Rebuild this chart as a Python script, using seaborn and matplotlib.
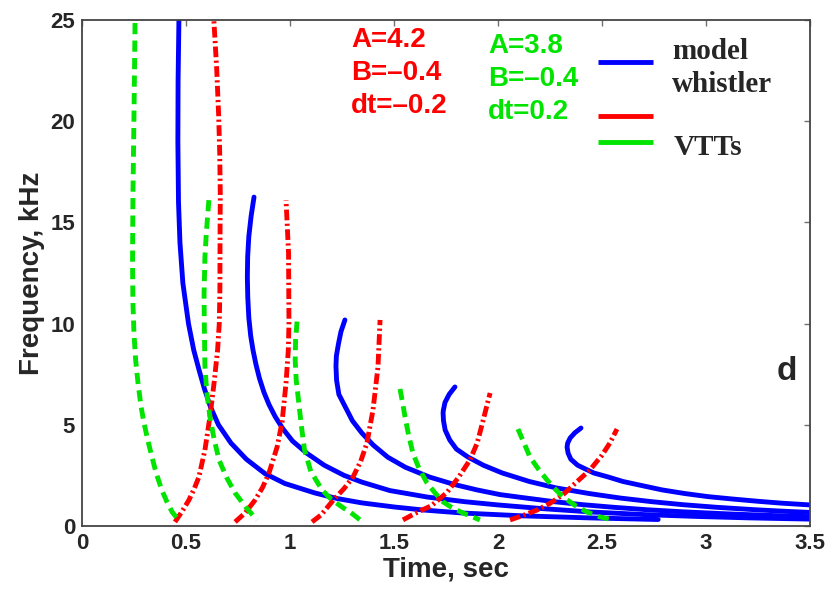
import matplotlib
matplotlib.use("Agg")
import matplotlib.pyplot as plt
from matplotlib.lines import Line2D
import pandas as pd
import seaborn as sns

# ---- model whistler traces: time (s) vs frequency (kHz) ----
w1_time = [0.466, 0.462, 0.461, 0.464, 0.471, 0.485, 0.512, 0.537, 0.563, 0.588, 0.617, 0.656,
           0.716, 0.79, 0.878, 0.975, 1.12, 1.225, 1.346, 1.50, 1.64, 1.83, 2.12, 2.44, 2.77]
w1_freq = [25.0, 22.0, 19.0, 16.0, 14.0, 12.0, 10.0, 8.7, 7.7, 6.8, 5.9, 5.0,
           4.1, 3.3, 2.6, 2.1, 1.63, 1.36, 1.14, 0.94, 0.79, 0.64, 0.50, 0.40, 0.32]

w2_time = [0.827, 0.813, 0.802, 0.7965, 0.795, 0.797, 0.802, 0.811, 0.822, 0.836, 0.853, 0.875,
           0.899, 0.929, 0.966, 1.012, 1.08, 1.165, 1.26, 1.345, 1.48, 1.66, 1.84, 2.0, 2.21,
           2.45, 2.71, 2.96, 3.21, 3.5]
w2_freq = [16.25, 15.3, 14.3, 13.3, 12.3, 11.3, 10.3, 9.4, 8.7, 8.0, 7.3, 6.6,
           6.0, 5.4, 4.8, 4.2, 3.6, 3.0, 2.5, 2.17, 1.75, 1.43, 1.2, 1.04, 0.86,
           0.69, 0.56, 0.47, 0.40, 0.34]

w3_time = [1.264, 1.245, 1.233, 1.223, 1.221, 1.224, 1.235, 1.27, 1.30, 1.345, 1.40, 1.47,
           1.555, 1.67, 1.79, 1.90, 2.01, 2.135, 2.27, 2.41, 2.56, 2.72, 2.89, 3.10, 3.31, 3.5]
w3_freq = [10.18, 9.6, 9.0, 8.4, 7.9, 7.2, 6.5, 5.8, 5.2, 4.6, 4.0, 3.4,
           2.9, 2.42, 2.05, 1.78, 1.55, 1.38, 1.2, 1.05, 0.92, 0.8, 0.7, 0.6, 0.52, 0.46]

w4_time = [1.793, 1.765, 1.745, 1.737, 1.736, 1.738, 1.746, 1.768, 1.80, 1.855, 1.93, 2.02,
           2.15, 2.28, 2.44, 2.588, 2.74, 2.892, 3.055, 3.24, 3.39, 3.5]
w4_freq = [6.87, 6.5, 6.1, 5.7, 5.58, 5.2, 4.74, 4.25, 3.8, 3.41, 3.0, 2.62,
           2.2, 1.88, 1.6, 1.38, 1.2, 1.05, 0.92, 0.8, 0.72, 0.67]

w5_time = [2.399, 2.369, 2.347, 2.335, 2.332, 2.337, 2.35, 2.383, 2.46, 2.53, 2.6, 2.69,
           2.79, 2.9, 3.01, 3.13, 3.25, 3.36, 3.5]
w5_freq = [4.84, 4.6, 4.35, 4.1, 3.9, 3.6, 3.3, 3.0, 2.62, 2.42, 2.2, 2.0,
           1.78, 1.6, 1.45, 1.33, 1.22, 1.13, 1.04]

# ---- VTT model, A=4.2, B=-0.4, dt=-0.2 ----
r1_time = [0.447, 0.48, 0.514, 0.54, 0.562, 0.591, 0.615, 0.635, 0.652, 0.660, 0.663, 0.664,
           0.665, 0.662, 0.657, 0.648, 0.634]
r1_freq = [0.2, 0.7, 1.28, 1.85, 2.42, 3.75, 5.39, 7.07, 8.70, 10.0, 11.66, 14.97,
           16.3, 18.5, 20.3, 22.5, 25.0]

r2_time = [0.736, 0.784, 0.832, 0.868, 0.899, 0.938, 0.962, 0.981, 0.992, 0.995, 0.993, 0.981]
r2_freq = [0.2, 0.64, 1.28, 1.9, 2.62, 3.90, 5.14, 7.07, 8.70, 10.0, 13.5, 16.1]

r3_time = [1.106, 1.15, 1.21, 1.26, 1.303, 1.34, 1.37, 1.399, 1.423, 1.433]
r3_freq = [0.2, 0.55, 1.3, 1.85, 2.42, 3.2, 4.1, 5.73, 7.86, 10.18]

r4_time = [1.543, 1.62, 1.68, 1.755, 1.81, 1.865, 1.90, 1.928, 1.962]
r4_freq = [0.30, 0.72, 1.0, 1.66, 2.4, 3.26, 4.1, 5.2, 6.57]

r5_time = [2.058, 2.12, 2.188, 2.25, 2.313, 2.37, 2.442, 2.50, 2.538, 2.572]
r5_freq = [0.30, 0.52, 0.79, 1.12, 1.55, 2.1, 2.77, 3.5, 4.1, 4.79]

# ---- VTT model, A=3.8, B=-0.4, dt=0.2 ----
g1_time = [0.255, 0.25, 0.245, 0.243, 0.245, 0.25, 0.258, 0.27, 0.284, 0.298, 0.315, 0.334,
           0.357, 0.383, 0.408, 0.433, 0.471]
g1_freq = [24.85, 20.3, 16.35, 13.0, 11.0, 9.5, 8.2, 7.0, 5.9, 5.1, 4.3, 3.5,
           2.6, 1.8, 1.2, 0.7, 0.2]

g2_time = [0.61, 0.598, 0.591, 0.587, 0.588, 0.591, 0.60, 0.615, 0.635, 0.659, 0.695, 0.736,
           0.79, 0.841]
g2_freq = [16.1, 14.5, 13.3, 11.5, 10.0, 7.9, 6.6, 5.4, 4.3, 3.26, 2.4, 1.63, 0.9, 0.3]

g3_time = [1.034, 1.027, 1.025, 1.03, 1.041, 1.054, 1.07, 1.10, 1.154, 1.20, 1.25, 1.30, 1.337]
g3_freq = [10.1, 9.2, 8.2, 7.2, 6.2, 5.0, 3.75, 2.7, 1.78, 1.3, 0.94, 0.6, 0.3]

g4_time = [1.529, 1.541, 1.553, 1.57, 1.591, 1.62, 1.659, 1.70, 1.736, 1.78, 1.832, 1.913]
g4_freq = [6.77, 6.1, 5.4, 4.5, 3.6, 2.85, 2.12, 1.6, 1.19, 0.9, 0.64, 0.3]

g5_time = [2.096, 2.125, 2.154, 2.195, 2.236, 2.275, 2.313, 2.37, 2.428, 2.49, 2.55]
g5_freq = [4.79, 4.1, 3.4, 2.8, 2.27, 1.82, 1.43, 1.02, 0.69, 0.45, 0.3]

x_ticks = [0, 0.5, 1, 1.5, 2, 2.5, 3, 3.5]
x_tick_labels = ["0", "0.5", "1", "1.5", "2", "2.5", "3", "3.5"]
y_ticks = [0, 5, 10, 15, 20, 25]
y_tick_labels = ["0", "5", "10", "15", "20", "25"]

red_params = ["A=4.2", "B=\u20130.4", "dt=\u20130.2"]
green_params = ["A=3.8", "B=\u20130.4", "dt=0.2"]
legend_labels = ["model", "whistler", "VTTs"]

BLUE, RED, GREEN = "#0000ff", "#ff0000", "#00e400"
LW = 3.5

curves = {
    ("whistler", "w1"): (w1_time, w1_freq),
    ("whistler", "w2"): (w2_time, w2_freq),
    ("whistler", "w3"): (w3_time, w3_freq),
    ("whistler", "w4"): (w4_time, w4_freq),
    ("whistler", "w5"): (w5_time, w5_freq),
    ("vtt_a", "r1"): (r1_time, r1_freq),
    ("vtt_a", "r2"): (r2_time, r2_freq),
    ("vtt_a", "r3"): (r3_time, r3_freq),
    ("vtt_a", "r4"): (r4_time, r4_freq),
    ("vtt_a", "r5"): (r5_time, r5_freq),
    ("vtt_b", "g1"): (g1_time, g1_freq),
    ("vtt_b", "g2"): (g2_time, g2_freq),
    ("vtt_b", "g3"): (g3_time, g3_freq),
    ("vtt_b", "g4"): (g4_time, g4_freq),
    ("vtt_b", "g5"): (g5_time, g5_freq),
}
frames = []
for (family, name), (t, f) in curves.items():
    frames.append(pd.DataFrame({"time": t, "freq": f, "family": family, "curve": name}))
df = pd.concat(frames, ignore_index=True)

sns.set_style("white")
plt.rcParams["font.family"] = ["Liberation Sans", "DejaVu Sans"]
plt.rcParams["font.weight"] = "bold"
plt.rcParams["lines.solid_joinstyle"] = "round"
plt.rcParams["lines.dash_joinstyle"] = "round"
plt.rcParams["lines.solid_capstyle"] = "round"

fig = plt.figure(figsize=(8.4, 5.9), dpi=100)
ax = fig.add_axes([0.0976, 0.1085, 0.8667, 0.8576])

sns.lineplot(
    data=df, x="time", y="freq", hue="family", style="family", units="curve",
    estimator=None, sort=False, ax=ax, legend=False, linewidth=LW,
    palette={"whistler": BLUE, "vtt_a": RED, "vtt_b": GREEN},
    dashes={"whistler": "", "vtt_a": (2.2, 0.7, 0.45, 0.7), "vtt_b": (2.3, 1.3)},
)

ax.set_xlim(0, 3.5)
ax.set_ylim(0, 25)
ax.set_xticks(x_ticks)
ax.set_xticklabels(x_tick_labels)
ax.set_yticks(y_ticks)
ax.set_yticklabels(y_tick_labels)
ax.tick_params(direction="in", length=4, width=1.0, color="#707070",
               top=True, right=True, labelsize=16, pad=5)
for lab in ax.get_xticklabels() + ax.get_yticklabels():
    lab.set_fontweight("bold")
for side in ax.spines.values():
    side.set_color("#444444")
    side.set_linewidth(1.3)

ax.set_xlabel("Time, sec", fontsize=20, fontweight="bold", labelpad=2)
ax.set_ylabel("Frequency, kHz", fontsize=20, fontweight="bold", labelpad=4)


def fx(px):
    return px / 840


def fy(py):
    return 1 - py / 590


# model parameters
for i, s in enumerate(red_params):
    fig.text(fx(351), fy(47 + 33 * i), s, color=RED, fontsize=20,
             fontweight="bold", va="baseline", ha="left")
for i, s in enumerate(green_params):
    fig.text(fx(488), fy(53 + 33 * i), s, color=GREEN, fontsize=20,
             fontweight="bold", va="baseline", ha="left")

ax.text(3.34, 7.2, "d", fontsize=24, fontweight="bold", va="baseline", ha="left")

# legend keys
for color, y in [(BLUE, 62), (RED, 116), (GREEN, 142)]:
    fig.add_artist(Line2D([fx(598), fx(653)], [fy(y), fy(y)], color=color, lw=LW,
                          solid_capstyle="butt", transform=fig.transFigure))
for s, x, y in zip(legend_labels, [672, 672, 674], [59, 92, 155]):
    fig.text(fx(x), fy(y), s, fontsize=21, family="Liberation Serif",
             fontweight="bold", va="baseline", ha="left")

fig.savefig("out.png", dpi=100)
